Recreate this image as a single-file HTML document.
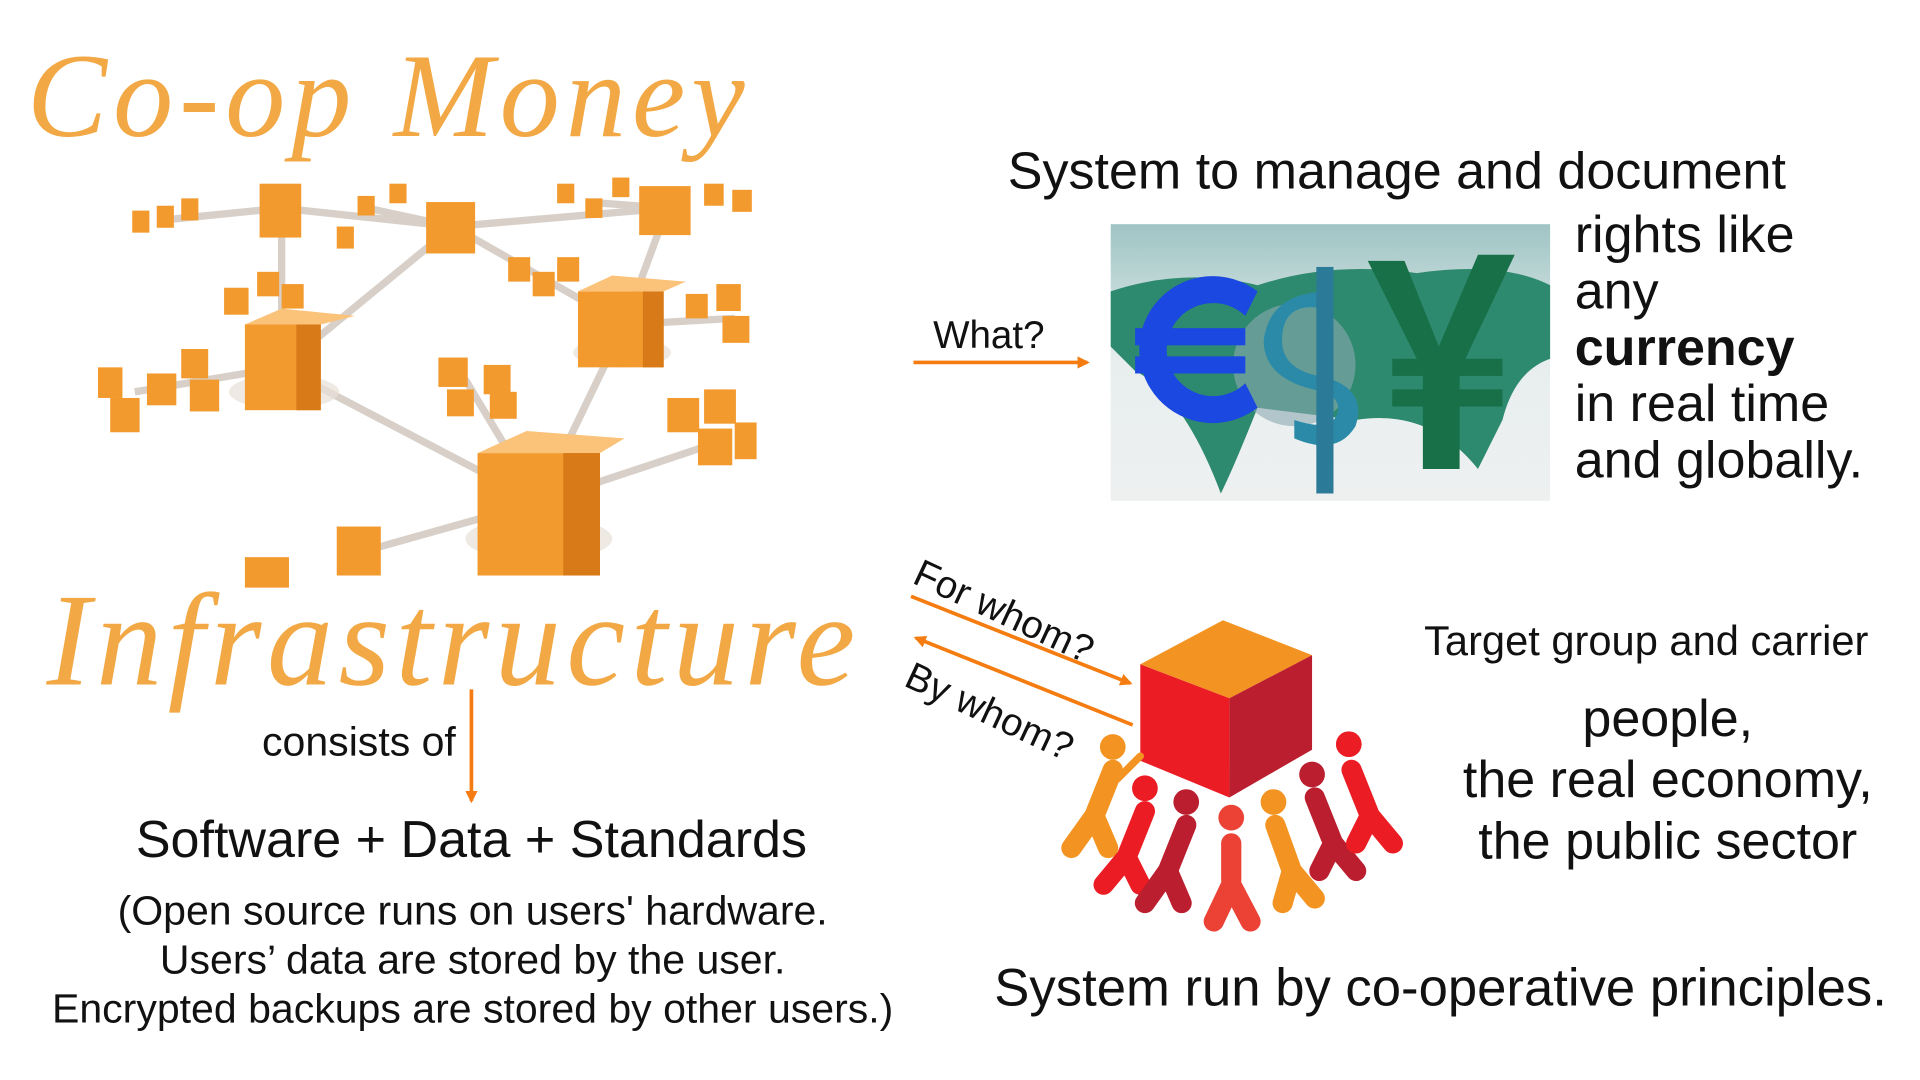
<!DOCTYPE html>
<html><head><meta charset="utf-8"><style>
html,body{margin:0;padding:0;background:#fff;width:1920px;height:1080px;overflow:hidden}
#s{position:absolute;left:0;top:0;width:1568px;height:882px;transform:scale(1.2245);transform-origin:0 0;font-family:"Liberation Sans",sans-serif;color:#111}
.t{position:absolute;white-space:nowrap;line-height:1}
.h{font-family:"Liberation Serif",serif;font-style:italic;color:#f2a844}
</style></head><body><div id="s">
<div class="t h" style="left:22px;top:30px;font-size:98px;letter-spacing:5px">Co-op Money</div>
<svg style="position:absolute;left:78px;top:140px" width="540" height="340" viewBox="78 140 540 340">
<g stroke="#d8d0c8" stroke-width="6" fill="none">
<path d="M230 300 L370 185 L545 170 L510 265 L440 410 L230 300 M370 185 L510 265 M230 170 L370 185 M230 170 L230 300 M230 300 L110 320 M510 265 L600 260 M440 410 L280 455 M440 410 L590 360 M380 310 L440 410 M370 185 L300 170 M545 170 L480 165 M230 170 L130 180 M510 265 L440 225"/>
</g>
<g fill="#e8e0d8" opacity=".7"><ellipse cx="232" cy="320" rx="45" ry="14"/><ellipse cx="440" cy="440" rx="60" ry="18"/><ellipse cx="508" cy="288" rx="40" ry="12"/></g>
<g fill="#f39a2e">
<rect x="200" y="265" width="62" height="70"/><rect x="390" y="370" width="100" height="100"/><rect x="472" y="238" width="70" height="62"/>
<rect x="348" y="165" width="40" height="42"/><rect x="522" y="152" width="42" height="40"/><rect x="212" y="150" width="34" height="44"/>
<rect x="275" y="430" width="36" height="40"/><rect x="200" y="455" width="36" height="25"/>
<rect x="80" y="300" width="20" height="25"/><rect x="90" y="325" width="24" height="28"/><rect x="120" y="305" width="24" height="26"/><rect x="148" y="285" width="22" height="24"/><rect x="155" y="310" width="24" height="26"/>
<rect x="183" y="235" width="20" height="22"/><rect x="210" y="222" width="18" height="20"/><rect x="230" y="232" width="18" height="20"/>
<rect x="108" y="172" width="14" height="18"/><rect x="128" y="168" width="14" height="18"/><rect x="148" y="162" width="14" height="18"/>
<rect x="275" y="185" width="14" height="18"/><rect x="292" y="160" width="14" height="16"/><rect x="318" y="150" width="14" height="16"/>
<rect x="415" y="210" width="18" height="20"/><rect x="435" y="222" width="18" height="20"/><rect x="455" y="210" width="18" height="20"/>
<rect x="455" y="150" width="14" height="16"/><rect x="478" y="162" width="14" height="16"/><rect x="500" y="145" width="14" height="16"/>
<rect x="575" y="150" width="16" height="18"/><rect x="598" y="155" width="16" height="18"/>
<rect x="560" y="240" width="18" height="20"/><rect x="585" y="232" width="20" height="22"/><rect x="590" y="258" width="22" height="22"/>
<rect x="358" y="292" width="24" height="24"/><rect x="395" y="298" width="22" height="24"/><rect x="365" y="318" width="22" height="22"/><rect x="400" y="320" width="22" height="22"/>
<rect x="545" y="325" width="26" height="28"/><rect x="575" y="318" width="26" height="28"/><rect x="570" y="350" width="28" height="30"/><rect x="600" y="345" width="18" height="30"/>
</g>
<g fill="#fbc27a"><polygon points="200,265 230,252 290,258 262,265"/><polygon points="390,370 430,352 510,358 490,370"/><polygon points="472,238 500,225 560,230 542,238"/></g>
<g fill="#d97a18"><rect x="242" y="265" width="20" height="70"/><rect x="460" y="370" width="30" height="100"/><rect x="525" y="238" width="17" height="62"/></g>
</svg>
<div class="t h" style="left:38px;top:470px;font-size:108px;letter-spacing:4.5px">Infrastructure</div>
<svg style="position:absolute;left:0;top:0;overflow:visible" width="1568" height="882">
<defs><marker id="a" markerWidth="10" markerHeight="10" refX="8" refY="5" orient="auto" markerUnits="userSpaceOnUse"><path d="M0,0 L10,5 L0,10 z" fill="#f47c10"/></marker></defs>
<g stroke="#f47c10" stroke-width="3" fill="none">
<line x1="385" y1="563" x2="385" y2="654" marker-end="url(#a)"/>
<line x1="746" y1="296" x2="888" y2="296" marker-end="url(#a)"/>
<line x1="744" y1="487" x2="923" y2="558" marker-end="url(#a)"/>
<line x1="925" y1="592" x2="748" y2="521" marker-end="url(#a)"/>
</g>
</svg>
<div class="t" style="left:214px;top:590px;font-size:33.5px">consists of</div>
<div class="t" style="left:0;width:770px;text-align:center;top:666px;font-size:42.5px">Software + Data + Standards</div>
<div class="t" style="left:0;width:772px;text-align:center;top:725px;font-size:33.5px;line-height:40px">(Open source runs on users' hardware.<br>Users’ data are stored by the user.<br>Encrypted backups are stored by other users.)</div>
<div class="t" style="left:762px;top:258px;font-size:31.5px">What?</div>
<div class="t" style="left:823px;top:120px;font-size:42.5px">System to manage and document</div>
<svg style="position:absolute;left:907px;top:183px" width="359" height="226" viewBox="0 0 359 226">
<defs><linearGradient id="g" x1="0" y1="0" x2="0" y2="1"><stop offset="0" stop-color="#9fc4c4"/><stop offset=".5" stop-color="#e8eeee"/><stop offset="1" stop-color="#eef0f0"/></linearGradient></defs>
<rect width="359" height="226" fill="url(#g)"/>
<path d="M0 55 Q60 35 120 50 Q180 30 250 40 Q320 30 359 50 L359 110 Q330 120 320 160 L300 200 Q260 150 200 160 L120 150 Q100 200 90 220 Q60 140 20 120 L0 100 z" fill="#2e8a6e"/>
<circle cx="150" cy="115" r="50" fill="#8aa8b0" opacity=".6"/>
<path d="M120 55 A60 60 0 1 0 120 150 L110 130 A38 38 0 1 1 110 75 z" fill="#1a48e0"/>
<rect x="20" y="85" width="90" height="14" fill="#1a48e0"/><rect x="20" y="108" width="90" height="14" fill="#1a48e0"/>
<path d="M180 70 Q140 60 140 95 Q140 120 175 125 Q210 135 200 165 Q185 190 150 175 L150 160 Q180 170 185 155 Q190 140 165 135 Q125 125 125 95 Q130 55 180 55 z" fill="#2a8aa8"/>
<rect x="168" y="35" width="14" height="185" fill="#2a7a98"/>
<path d="M210 30 L240 30 L268 100 L300 25 L330 25 L285 120 L285 200 L255 200 L255 120 z" fill="#187048"/>
<rect x="230" y="110" width="90" height="14" fill="#187048"/><rect x="230" y="135" width="90" height="14" fill="#187048"/>
</svg>
<div class="t" style="left:1286px;top:170px;font-size:42.5px;line-height:46px">rights like<br>any<br><b>currency</b><br>in real time<br>and globally.</div>
<div class="t" style="left:755px;top:452px;font-size:31.5px;transform:rotate(25deg);transform-origin:0 0">For whom?</div>
<div class="t" style="left:748px;top:536px;font-size:31.5px;transform:rotate(25deg);transform-origin:0 0">By whom?</div>
<svg style="position:absolute;left:860px;top:495px" width="300" height="275" viewBox="1050 600 400 350">
<polygon points="1145,655 1235,607 1332,645 1242,692" fill="#f39422"/>
<polygon points="1145,655 1242,692 1242,800 1145,760" fill="#ec1c24"/>
<polygon points="1242,692 1332,645 1332,748 1242,800" fill="#bb1e2e"/>
<g stroke-linecap="round" stroke-width="22" fill="none">
<g stroke="#f39422"><path d="M1115 770 L1095 820 M1095 820 L1070 855 M1095 820 L1110 855"/><path d="M1120 780 L1145 755" stroke-width="8"/></g>
<g stroke="#ec1c24"><path d="M1150 815 L1130 865 M1130 865 L1105 895 M1130 865 L1145 895"/></g>
<g stroke="#bb1e2e"><path d="M1195 830 L1175 880 M1175 880 L1150 915 M1175 880 L1190 915"/></g>
<g stroke="#ec4236"><path d="M1244 850 L1244 890 M1244 895 L1225 935 M1244 895 L1265 935"/></g>
<g stroke="#f39422"><path d="M1292 830 L1310 880 M1310 880 L1300 915 M1310 880 L1335 910"/></g>
<g stroke="#bb1e2e"><path d="M1335 800 L1355 850 M1355 850 L1340 880 M1355 850 L1380 880"/></g>
<g stroke="#ec1c24"><path d="M1375 770 L1395 820 M1395 820 L1380 850 M1395 820 L1420 850"/></g>
</g>
<g><circle cx="1115" cy="745" r="14" fill="#f39422"/><circle cx="1150" cy="790" r="14" fill="#ec1c24"/><circle cx="1195" cy="805" r="14" fill="#bb1e2e"/><circle cx="1244" cy="822" r="14" fill="#ec4236"/><circle cx="1290" cy="805" r="14" fill="#f39422"/><circle cx="1332" cy="775" r="14" fill="#bb1e2e"/><circle cx="1372" cy="742" r="14" fill="#ec1c24"/></g>
</svg>
<div class="t" style="left:1163px;top:507px;font-size:34px">Target group and carrier</div>
<div class="t" style="left:1150px;width:424px;text-align:center;top:563px;font-size:42.5px;line-height:50px">people,<br>the real economy,<br>the public sector</div>
<div class="t" style="left:812px;top:786px;font-size:43px">System run by co-operative principles.</div>
</div></body></html>
